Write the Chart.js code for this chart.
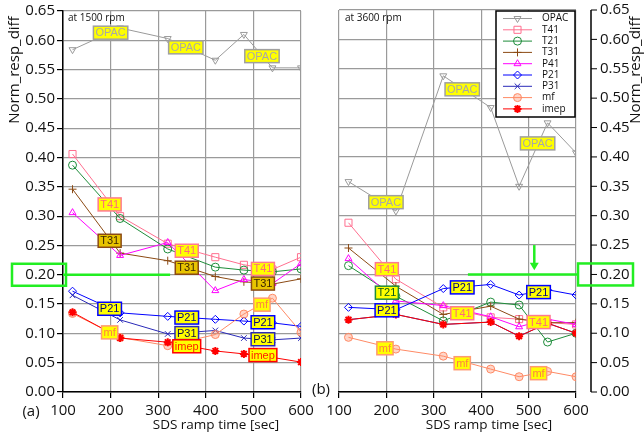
<!DOCTYPE html>
<html lang="en">
<head>
    <meta charset="UTF-8">
    <title>Norm_resp_diff vs SDS ramp time</title>
    <script src="https://cdn.jsdelivr.net/npm/chart.js"></script>
    <style>
        body { margin: 0; background: #fff; }
        #wrap { position: relative; width: 644px; height: 437px; overflow: hidden; }
        canvas { position: absolute; top: 0; }
        #chartA { left: 0; }
        #chartB { left: 300px; }
    </style>
</head>
<body>
<div id="wrap">
    <canvas id="chartA" width="322" height="437"></canvas>
    <canvas id="chartB" width="344" height="437"></canvas>
</div>
<script>
    // ramp times used for every series
    const rampTime = [120, 220, 320, 420, 480, 540, 600];
    const names = ['OPAC', 'T41', 'T21', 'T31', 'P41', 'P21', 'P31', 'mf', 'imep'];

    // (a) 1500 rpm
    const opac1500 = [0.584, 0.621, 0.603, 0.566, 0.610, 0.553, 0.553];
    const t41_1500 = [0.406, 0.300, 0.253, 0.230, 0.217, 0.209, 0.230];
    const t21_1500 = [0.387, 0.296, 0.244, 0.213, 0.208, 0.205, 0.210];
    const t31_1500 = [0.346, 0.237, 0.224, 0.197, 0.188, 0.184, 0.193];
    const p41_1500 = [0.306, 0.233, 0.255, 0.173, 0.192, 0.185, 0.219];
    const p21_1500 = [0.172, 0.135, 0.129, 0.124, 0.121, 0.118, 0.112];
    const p31_1500 = [0.165, 0.123, 0.099, 0.105, 0.092, 0.089, 0.092];
    const mf_1500 = [0.134, 0.093, 0.079, 0.098, 0.133, 0.160, 0.102];
    const imep_1500 = [0.136, 0.092, 0.085, 0.070, 0.065, 0.059, 0.051];

    // (b) 3600 rpm
    const opac3600 = [0.358, 0.308, 0.538, 0.484, 0.350, 0.458, 0.407];
    const t41_3600 = [0.288, 0.192, 0.144, 0.127, 0.124, 0.118, 0.115];
    const t21_3600 = [0.215, 0.163, 0.121, 0.153, 0.148, 0.085, 0.100];
    const t31_3600 = [0.245, 0.180, 0.132, 0.146, 0.124, 0.118, 0.118];
    const p41_3600 = [0.227, 0.155, 0.147, 0.128, 0.111, 0.124, 0.115];
    const p21_3600 = [0.144, 0.140, 0.176, 0.183, 0.165, 0.174, 0.165];
    const p31_3600 = [0.123, 0.132, 0.115, 0.119, 0.095, 0.117, 0.100];
    const mf_3600 = [0.093, 0.073, 0.061, 0.039, 0.026, 0.035, 0.026];
    const imep_3600 = [0.123, 0.132, 0.115, 0.119, 0.095, 0.117, 0.100];

    // tag boxes: [series, ramp time, value]
    const tags1500 = [
        ['OPAC', 200, 0.613], ['OPAC', 358, 0.588], ['OPAC', 518, 0.573],
        ['T41', 198, 0.320], ['T41', 360, 0.241], ['T41', 520, 0.210],
        ['T31', 198, 0.258], ['T31', 360, 0.212], ['T31', 520, 0.185],
        ['P21', 198, 0.142], ['P21', 360, 0.127], ['P21', 520, 0.119],
        ['P31', 360, 0.1005], ['P31', 520, 0.090],
        ['mf', 198, 0.1017], ['mf', 518, 0.149],
        ['imep', 360, 0.078], ['imep', 520, 0.063]
    ];
    const tags3600 = [
        ['OPAC', 199, 0.323], ['OPAC', 360, 0.515], ['OPAC', 519, 0.423],
        ['T41', 201, 0.209], ['T41', 360, 0.134], ['T41', 521, 0.119],
        ['T21', 201, 0.169],
        ['P21', 201, 0.139], ['P21', 360, 0.178], ['P21', 521, 0.170],
        ['mf', 197, 0.0744], ['mf', 360, 0.049], ['mf', 521, 0.032]
    ];

    const colors = ['#9a9a9a', '#ff6f8f', '#1e8c3a', '#8b4a14', '#ff00ff', '#0000ff', '#2a2ab8', '#ff8a65', '#ff0000'];
    const markers = ['triangle', 'rect', 'circle', 'cross', 'triangle', 'rectRot', 'crossRot', 'circle', 'star'];
    const tagStyle = {
        OPAC: { bg: '#ffff00', border: '#a0a0a0', text: '#a8a8a8' },
        T41: { bg: '#ffff00', border: '#ff7a90', text: '#ff6a7a' },
        T21: { bg: '#ffff00', border: '#1e8c3a', text: '#0a5a1a' },
        T31: { bg: '#e8c400', border: '#8b4a14', text: '#3b2500' },
        P21: { bg: '#ffff00', border: '#0000ff', text: '#000080' },
        P31: { bg: '#ffff00', border: '#2a2ab8', text: '#10104a' },
        mf: { bg: '#ffff00', border: '#ff9a70', text: '#ff8040' },
        imep: { bg: '#ffff00', border: '#ff0000', text: '#ff2000' }
    };
    const green = '#22ee22';
    const tickFontCss = '15px "Open Sans", sans-serif';

    function makeDatasets(list) {
        return list.map((vals, i) => ({
            label: names[i],
            data: vals.map((v, k) => ({ x: rampTime[k], y: v })),
            borderColor: colors[i],
            backgroundColor: colors[i],
            borderWidth: 1,
            pointStyle: markers[i],
            pointRotation: i === 0 ? 180 : 0,
            pointRadius: markers[i] === 'rect' ? 5 : 4,
            pointBorderWidth: markers[i] === 'star' ? 2 : 1,
            pointBackgroundColor: names[i] === 'mf' ? 'rgba(255,138,101,0.35)' : 'rgba(255,255,255,0)',
            order: 9 - i
        }));
    }

    function drawTags(chart, tags) {
        const ctx = chart.ctx, xs = chart.scales.x, ys = chart.scales.y;
        ctx.save();
        ctx.font = '11px "Liberation Sans", Arial, sans-serif';
        ctx.textAlign = 'center';
        ctx.textBaseline = 'middle';
        tags.forEach(([name, x, y]) => {
            const st = tagStyle[name];
            const px = xs.getPixelForValue(x), py = ys.getPixelForValue(y);
            const w = ctx.measureText(name).width + 4, h = 13;
            ctx.fillStyle = st.bg;
            ctx.fillRect(px - w / 2, py - h / 2, w, h);
            ctx.strokeStyle = st.border;
            ctx.lineWidth = 1.5;
            ctx.strokeRect(px - w / 2, py - h / 2, w, h);
            ctx.fillStyle = st.text;
            ctx.fillText(name, px, py + 0.5);
        });
        ctx.restore();
    }

    function drawYTitle(ctx, x) {
        ctx.save();
        ctx.translate(x, 70);
        ctx.rotate(-Math.PI / 2);
        ctx.font = '15px "Open Sans", sans-serif';
        ctx.fillStyle = '#111';
        ctx.textAlign = 'center';
        ctx.textBaseline = 'middle';
        ctx.fillText('Norm_resp_diff', 0, 0);
        ctx.restore();
    }

    function drawText(ctx, txt, x, y, size, align) {
        ctx.save();
        ctx.font = size + 'px "Open Sans", sans-serif';
        ctx.fillStyle = '#111';
        ctx.textAlign = align || 'center';
        ctx.textBaseline = 'middle';
        ctx.fillText(txt, x, y);
        ctx.restore();
    }

    function drawLegend(chart) {
        const ctx = chart.ctx;
        const left = 196, top = 11, w = 79, h = 106;
        ctx.save();
        ctx.fillStyle = '#fff';
        ctx.fillRect(left, top, w, h);
        ctx.strokeStyle = '#000';
        ctx.lineWidth = 1.5;
        ctx.strokeRect(left, top, w, h);
        ctx.font = '10px "Open Sans", sans-serif';
        ctx.textBaseline = 'middle';
        chart.data.datasets.forEach((ds, i) => {
            const y = top + 7.5 + i * 11.3;
            ctx.strokeStyle = ds.borderColor;
            ctx.lineWidth = 1;
            ctx.beginPath();
            ctx.moveTo(left + 7, y);
            ctx.lineTo(left + 36, y);
            ctx.stroke();
            ctx.fillStyle = ds.pointBackgroundColor;
            ctx.lineWidth = ds.pointBorderWidth;
            Chart.helpers.drawPoint(ctx, {
                pointStyle: ds.pointStyle, rotation: ds.pointRotation,
                radius: ds.pointRadius, borderWidth: ds.pointBorderWidth
            }, left + 21.5, y);
            ctx.fillStyle = '#111';
            ctx.fillText(ds.label, left + 46, y);
        });
        ctx.restore();
    }

    const decorA = {
        id: 'decorA',
        afterDatasetsDraw(chart) {
            const ctx = chart.ctx, xs = chart.scales.x, ys = chart.scales.y;
            const y20 = ys.getPixelForValue(0.2);
            ctx.save();
            ctx.strokeStyle = green;
            ctx.lineWidth = 2.5;
            ctx.beginPath();
            ctx.moveTo(xs.getPixelForValue(100), y20);
            ctx.lineTo(xs.getPixelForValue(325), y20);
            ctx.stroke();
            ctx.strokeRect(12, y20 - 11, 54, 22);
            ctx.restore();
            drawTags(chart, tags1500);
        },
        afterDraw(chart) {
            const ctx = chart.ctx;
            drawYTitle(ctx, 15);
            drawText(ctx, 'at 1500 rpm', 68, 18, 10, 'left');
            drawText(ctx, 'SDS ramp time [sec]', 216, 425, 13.5);
            drawText(ctx, '(a)', 31, 412, 15);
        }
    };

    const decorB = {
        id: 'decorB',
        afterDatasetsDraw(chart) {
            const ctx = chart.ctx, xs = chart.scales.x, ys = chart.scales.y;
            const y20 = ys.getPixelForValue(0.2);
            const axisX = chart.chartArea.right + 15;
            ctx.save();
            // right axis sits a little away from the plot frame
            ctx.strokeStyle = '#000';
            ctx.lineWidth = 1.5;
            ctx.beginPath();
            ctx.moveTo(axisX, ys.top);
            ctx.lineTo(axisX, ys.bottom);
            ctx.stroke();
            ctx.lineWidth = 1;
            ctx.fillStyle = '#111';
            ctx.font = tickFontCss;
            ctx.textAlign = 'left';
            ctx.textBaseline = 'middle';
            ys.ticks.forEach(t => {
                const py = ys.getPixelForValue(t.value);
                ctx.beginPath();
                ctx.moveTo(axisX, py);
                ctx.lineTo(axisX + 6, py);
                ctx.stroke();
                ctx.fillText(t.value.toFixed(2), axisX + 9, py);
            });
            ctx.strokeStyle = green;
            ctx.lineWidth = 2.5;
            ctx.beginPath();
            ctx.moveTo(xs.getPixelForValue(372), y20);
            ctx.lineTo(chart.chartArea.right + 2, y20);
            ctx.stroke();
            ctx.strokeRect(chart.chartArea.right + 2, y20 - 11, 55, 22);
            // arrow
            const ax = xs.getPixelForValue(512);
            ctx.beginPath();
            ctx.moveTo(ax, ys.getPixelForValue(0.25));
            ctx.lineTo(ax, ys.getPixelForValue(0.212));
            ctx.stroke();
            ctx.fillStyle = green;
            ctx.beginPath();
            ctx.moveTo(ax - 4.5, ys.getPixelForValue(0.22));
            ctx.lineTo(ax + 4.5, ys.getPixelForValue(0.22));
            ctx.lineTo(ax, ys.getPixelForValue(0.207));
            ctx.closePath();
            ctx.fill();
            ctx.restore();
            drawTags(chart, tags3600);
            drawLegend(chart);
        },
        afterDraw(chart) {
            const ctx = chart.ctx;
            drawYTitle(ctx, 336);
            drawText(ctx, 'at 3600 rpm', 45, 18, 10, 'left');
            drawText(ctx, 'SDS ramp time [sec]', 189, 425, 13.5);
            drawText(ctx, '(b)', 21, 390, 15);
        }
    };

    function panelOptions(isLeft) {
        const tickFont = { family: '"Open Sans", sans-serif', size: 15 };
        return {
            responsive: false,
            animation: false,
            layout: { padding: { left: isLeft ? 0 : 39, right: isLeft ? 21 : 0, top: 10, bottom: 0 } },
            plugins: { legend: { display: false }, tooltip: { enabled: false } },
            scales: {
                x: {
                    type: 'linear', min: 100, max: 600,
                    ticks: { stepSize: 100, color: '#111', font: tickFont, padding: 4, maxRotation: 0 },
                    grid: { color: '#9a9a9a', lineWidth: 1.2, tickColor: '#000', tickLength: 6 },
                    border: { color: '#000', width: 1.5 },
                    afterFit: s => { s.height = 45; }
                },
                y: {
                    position: isLeft ? 'left' : 'right',
                    min: 0, max: 0.65,
                    ticks: { stepSize: 0.05, callback: v => v.toFixed(2), color: '#111', font: tickFont, padding: 2, display: isLeft },
                    grid: { color: '#9a9a9a', lineWidth: 1.2, tickColor: '#000', tickLength: 6, drawTicks: isLeft },
                    border: { display: isLeft, color: '#000', width: 1.5 },
                    afterFit: s => { s.width = isLeft ? 63 : 68; }
                }
            }
        };
    }

    new Chart(document.getElementById('chartA'), {
        type: 'line',
        data: { datasets: makeDatasets([opac1500, t41_1500, t21_1500, t31_1500, p41_1500, p21_1500, p31_1500, mf_1500, imep_1500]) },
        options: panelOptions(true),
        plugins: [decorA]
    });

    new Chart(document.getElementById('chartB'), {
        type: 'line',
        data: { datasets: makeDatasets([opac3600, t41_3600, t21_3600, t31_3600, p41_3600, p21_3600, p31_3600, mf_3600, imep_3600]) },
        options: panelOptions(false),
        plugins: [decorB]
    });
</script>
</body>
</html>
